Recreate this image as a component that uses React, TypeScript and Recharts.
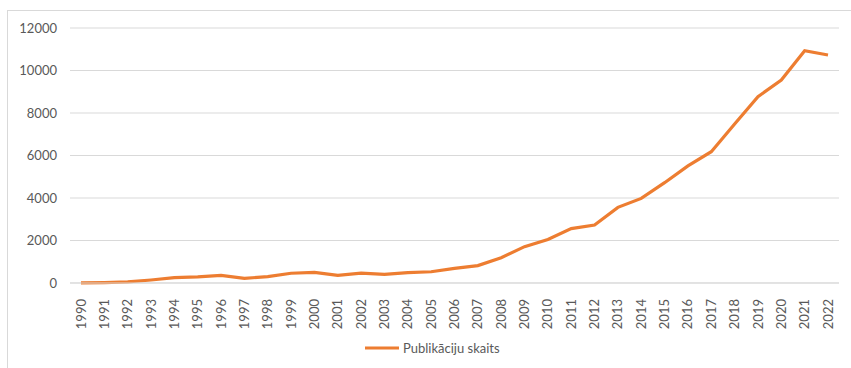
import React from 'react';
import { LineChart, Line, XAxis, YAxis, CartesianGrid } from 'recharts';

const years = ['1990','1991','1992','1993','1994','1995','1996','1997','1998','1999','2000','2001','2002','2003','2004','2005','2006','2007','2008','2009','2010','2011','2012','2013','2014','2015','2016','2017','2018','2019','2020','2021','2022'];
const publications = [10, 20, 50, 140, 250, 290, 360, 220, 300, 460, 500, 360, 460, 410, 490, 530, 690, 820, 1190, 1710, 2050, 2560, 2730, 3560, 3980, 4720, 5510, 6180, 7480, 8770, 9550, 10930, 10730];
const yTicks = [0, 2000, 4000, 6000, 8000, 10000, 12000];
const seriesName = 'Publikāciju skaits';

const data = years.map((y, i) => ({ year: y, value: publications[i] }));

const FONT = 'Lato, "Open Sans", sans-serif';
const GRAY = '#595959';
const ORANGE = '#ED7D31';

const XTick = (props: any) => {
  const { x, y, payload } = props;
  return (
    <text x={x} y={y} transform={`rotate(-90, ${x}, ${y})`} textAnchor="end" dy="0.35em" fill={GRAY} fontSize={13} fontFamily={FONT}>
      {payload.value}
    </text>
  );
};

export default function App() {
  return (
    <div style={{ position: 'absolute', left: 0, top: 0, width: 851, height: 368, overflow: 'hidden', background: '#fff' }}>
      <div style={{ position: 'absolute', left: 7, top: 10, width: 860, height: 370, borderLeft: '1px solid #d9d9d9', borderTop: '1px solid #d9d9d9' }} />
      <div style={{ position: 'absolute', left: 0, top: 0 }}>
        <LineChart width={851} height={368} data={data} margin={{ top: 28, right: 12, bottom: 0, left: 0 }}>
          <CartesianGrid vertical={false} stroke="#d9d9d9" strokeWidth={1} />
          <XAxis dataKey="year" interval={0} tick={<XTick />} tickLine={false} axisLine={{ stroke: '#d9d9d9' }} tickMargin={10} height={85} padding={{ left: 11, right: 11 }} />
          <YAxis domain={[0, 12000]} ticks={yTicks} width={70} tickLine={false} axisLine={false} tickSize={0} tickMargin={13} tick={{ fill: GRAY, fontSize: 13, fontFamily: FONT }} />
          <Line type="linear" dataKey="value" name={seriesName} stroke={ORANGE} strokeWidth={3.2} dot={false} isAnimationActive={false} />
        </LineChart>
      </div>
      <div style={{ position: 'absolute', left: 365, top: 340, display: 'flex', alignItems: 'center', fontFamily: FONT, fontSize: 13, color: GRAY }}>
        <svg width={34} height={6} style={{ marginRight: 4 }}>
          <line x1={0} y1={3} x2={34} y2={3} stroke={ORANGE} strokeWidth={3} />
        </svg>
        <span>{seriesName}</span>
      </div>
    </div>
  );
}
